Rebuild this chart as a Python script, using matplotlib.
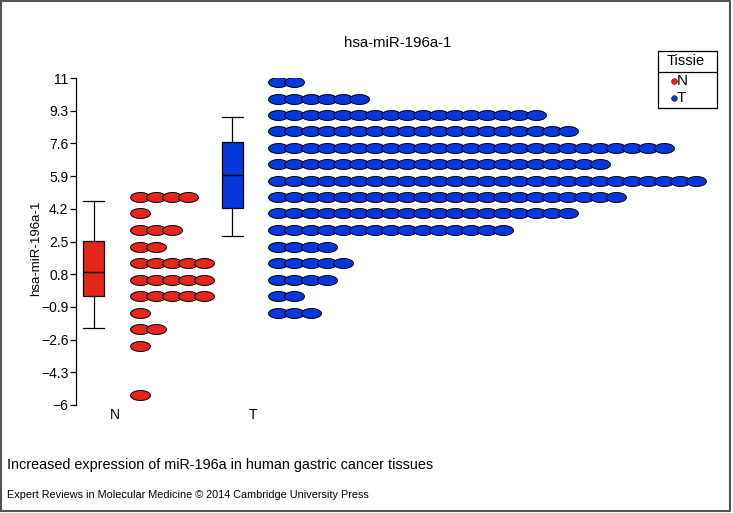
import numpy as np
import matplotlib.pyplot as plt
from matplotlib.path import Path
from matplotlib.patches import Rectangle
from matplotlib.lines import Line2D

plt.rcParams['font.family'] = ['Liberation Sans', 'DejaVu Sans']

groups = ['N', 'T']
colors = ['#E3251B', '#0638DD']

# dot plot rows: bin value and number of samples in that bin
n_rows = [4.82, 3.96, 3.09, 2.24, 1.37, 0.52, -0.34, -1.21, -2.06, -2.91, -5.50]
n_counts = [4, 1, 3, 2, 5, 5, 5, 1, 2, 1, 1]
t_rows = [10.77, 9.92, 9.08, 8.22, 7.36, 6.52, 5.67, 4.82, 3.96, 3.09,
          2.24, 1.37, 0.52, -0.34, -1.21]
t_counts = [2, 6, 17, 19, 25, 21, 27, 22, 19, 15, 4, 5, 4, 2, 3]

# box plot summaries (N, T)
q1 = [-0.31, 4.24]
median = [0.91, 5.95]
q3 = [2.53, 7.65]
whis_lo = [-2.01, 2.79]
whis_hi = [4.60, 8.97]

yticks = [11, 9.3, 7.6, 5.9, 4.2, 2.5, 0.8, -0.9, -2.6, -4.3, -6]

W, H = 733, 513


def fx(x):
    return x / W


def fy(y):
    return 1 - y / H


fig = plt.figure(figsize=(W / 100, H / 100), dpi=100)
ax = fig.add_axes([fx(76), fy(405), fx(720) - fx(76), fy(78) - fy(405)])

px_unit = 138.5          # pixels between the two categories
box_off = -20.8 / px_unit
box_w = 21 / px_unit
dot_off = 25.4 / px_unit
dot_step = 16.07 / px_unit

# ellipse marker, twice as wide as tall
theta = np.linspace(0, 2 * np.pi, 64)
ell = Path(np.column_stack([np.cos(theta), 0.5 * np.sin(theta)]), closed=True)

for i, (rows, counts) in enumerate([(n_rows, n_counts), (t_rows, t_counts)]):
    xs, ys = [], []
    for val, cnt in zip(rows, counts):
        for k in range(cnt):
            xs.append(i + dot_off + k * dot_step)
            ys.append(val)
    ax.scatter(xs, ys, marker=ell, s=205, c=colors[i], edgecolors='black',
               linewidths=0.7, zorder=3)

    stats = [dict(med=median[i], q1=q1[i], q3=q3[i], whislo=whis_lo[i],
                  whishi=whis_hi[i], fliers=[])]
    ax.bxp(stats, positions=[i + box_off], widths=box_w, capwidths=box_w,
           patch_artist=True, showfliers=False, manage_ticks=False,
           boxprops=dict(facecolor=colors[i], edgecolor='black', linewidth=0.9),
           medianprops=dict(color='black', linewidth=1.0),
           whiskerprops=dict(color='black', linewidth=0.9),
           capprops=dict(color='black', linewidth=0.9))

ax.set_xlim(-(114.5 - 76) / px_unit, (720 - 114.5) / px_unit)
ax.set_ylim(-6, 11)
ax.set_yticks(yticks)
ax.set_yticklabels([f'{v:g}'.replace('-', '\u2212') for v in yticks], fontsize=10)
ax.set_xticks([0, 1])
ax.set_xticklabels(groups, fontsize=10)
ax.tick_params(axis='x', length=0, pad=2)
ax.tick_params(axis='y', length=4, width=0.9, pad=1.5)
for s in ['top', 'right', 'bottom']:
    ax.spines[s].set_visible(False)
ax.spines['left'].set_linewidth(0.9)
ax.set_ylabel('hsa-miR-196a-1', fontsize=9.5)
ax.yaxis.set_label_coords(-0.053, 0.48)

fig.text(fx(398), fy(43), 'hsa-miR-196a-1', fontsize=10.8, ha='center', va='center')

# legend box drawn by hand
fig.patches.append(Rectangle((fx(658), fy(108)), fx(717) - fx(658), fy(51) - fy(108),
                             transform=fig.transFigure, fill=False,
                             edgecolor='black', linewidth=0.9))
fig.lines.append(Line2D([fx(658), fx(717)], [fy(72), fy(72)],
                        transform=fig.transFigure, color='black', linewidth=0.9))
fig.text(fx(686), fy(61), 'Tissie', fontsize=10.5, ha='center', va='center')
for i, g in enumerate(groups):
    yy = fy(81 + 16.5 * i)
    fig.lines.append(Line2D([fx(674)], [yy], transform=fig.transFigure,
                            marker='o', markersize=4.2, color=colors[i],
                            markeredgecolor='black', markeredgewidth=0.3,
                            linestyle='none'))
    fig.text(fx(677), yy, g, fontsize=11, ha='left', va='center')

fig.text(fx(7), fy(465), 'Increased expression of miR-196a in human gastric cancer tissues',
         fontsize=10.4, ha='left', va='center')
fig.text(fx(7), fy(495), 'Expert Reviews in Molecular Medicine \u00a9 2014 Cambridge University Press',
         fontsize=7.8, ha='left', va='center')

fig.patches.append(Rectangle((fx(1), fy(511)), fx(730) - fx(1), fy(1) - fy(511),
                             transform=fig.transFigure, fill=False,
                             edgecolor='#555555', linewidth=1.5))

fig.savefig('out.png', dpi=100)
